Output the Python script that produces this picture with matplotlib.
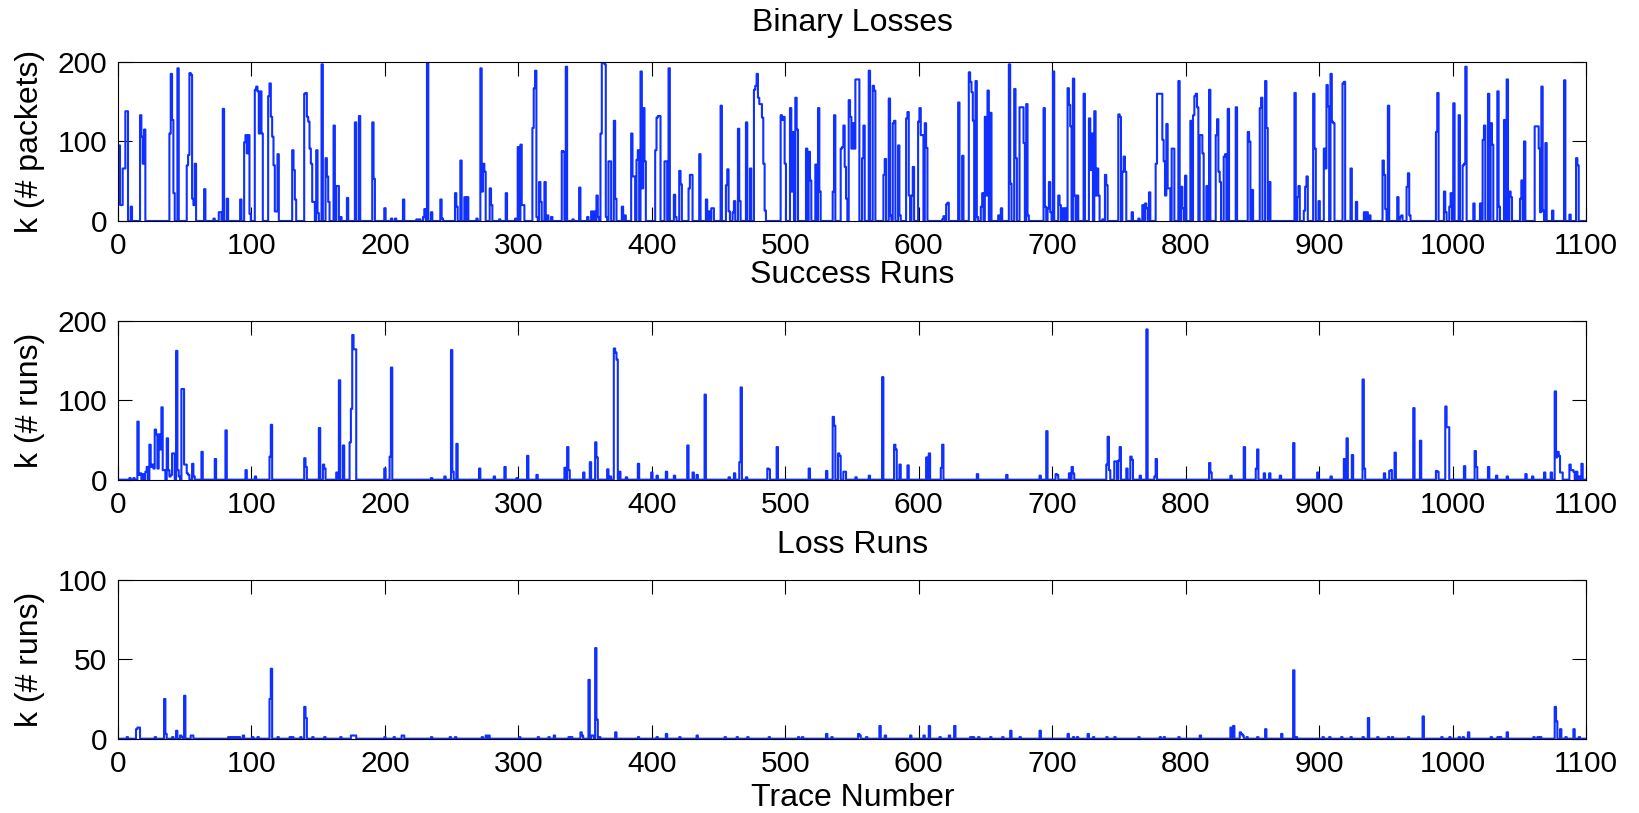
import numpy as np
import matplotlib
matplotlib.use("Agg")
import matplotlib.pyplot as plt

plt.rcParams['font.family'] = ['Liberation Sans', 'DejaVu Sans']

n_traces = 1100

# (trace number, k) pairs; traces not listed have k = 0
binary_losses = [
    (1, 95), (2, 20), (3, 20), (4, 66), (5, 66), (6, 138), (7, 138), (10, 18),
    (17, 133), (18, 106), (19, 72), (20, 115),
    (39, 110), (40, 185), (41, 127), (42, 35), (45, 192),
    (52, 70), (53, 83), (54, 186), (55, 184), (56, 28), (57, 20), (58, 72),
    (65, 40), (72, 3), (76, 11), (77, 11), (79, 141), (82, 28),
    (92, 27), (95, 99), (96, 108), (97, 85), (98, 108), (99, 9),
    (103, 165), (104, 169), (105, 163), (106, 110), (107, 163), (108, 110),
    (113, 157), (114, 173), (115, 131), (116, 106), (117, 70), (118, 12),
    (119, 12), (120, 84), (131, 89), (132, 64), (133, 27),
    (140, 160), (141, 161), (142, 131), (143, 125), (144, 91), (145, 72),
    (146, 24), (147, 24), (149, 89), (150, 10), (153, 197), (156, 79),
    (157, 56), (158, 24), (162, 120), (164, 44), (165, 44), (167, 5),
    (172, 29), (178, 124), (181, 132), (191, 124), (192, 53),
    (200, 16), (205, 3), (208, 3), (214, 27), (224, 2), (226, 2), (229, 5),
    (230, 15), (232, 200), (235, 11), (242, 27), (243, 3),
    (253, 35), (254, 18), (257, 76), (260, 30), (262, 30), (269, 3),
    (272, 192), (273, 37), (274, 72), (275, 62), (279, 41), (280, 20),
    (286, 2), (291, 35), (298, 3), (300, 93), (302, 96), (303, 20), (304, 20),
    (311, 117), (312, 167), (313, 189), (314, 5), (316, 49), (317, 24),
    (320, 49), (322, 7), (325, 5), (333, 88), (334, 87), (336, 194),
    (341, 2), (346, 42), (352, 5), (355, 12), (357, 12), (359, 32), (360, 5),
    (362, 110), (363, 199), (364, 199), (365, 197), (366, 5),
    (368, 75), (369, 75), (372, 126), (373, 28), (378, 18), (380, 7),
    (385, 110), (386, 56), (387, 56), (389, 77), (390, 89), (392, 188),
    (393, 41), (394, 142), (395, 75), (403, 89), (404, 130), (405, 132),
    (406, 132), (410, 75), (411, 75), (413, 192), (417, 33), (418, 5),
    (421, 63), (422, 46), (428, 41), (429, 58), (430, 58), (436, 84),
    (441, 27), (443, 12), (445, 16), (446, 16), (452, 145), (456, 45),
    (457, 65), (458, 12), (461, 11), (462, 25), (465, 116), (466, 25),
    (471, 124), (474, 66), (477, 165), (478, 170), (479, 185), (480, 155),
    (481, 147), (482, 147), (483, 130), (484, 72), (485, 13),
    (497, 133), (498, 127), (499, 131), (500, 72), (504, 142), (505, 37),
    (506, 112), (508, 155), (509, 115), (516, 91), (518, 87), (519, 51),
    (523, 71), (525, 142), (526, 37), (536, 37), (537, 133),
    (542, 91), (543, 93), (544, 120), (545, 68), (546, 28), (548, 152),
    (549, 131), (550, 91), (551, 123), (552, 91), (553, 178), (554, 178),
    (555, 178), (558, 79), (559, 120), (563, 189), (566, 170), (567, 164),
    (574, 58), (575, 78), (578, 154), (579, 7), (581, 123), (582, 126),
    (585, 95), (586, 7), (591, 129), (592, 137), (593, 32), (595, 32),
    (596, 68), (600, 125), (601, 142), (602, 108), (603, 108), (605, 123),
    (606, 92), (618, 2), (619, 6), (621, 21), (622, 23), (630, 149),
    (633, 82), (638, 187), (639, 175), (640, 162), (641, 126), (643, 176),
    (644, 5), (647, 18), (648, 35), (650, 131), (651, 32), (652, 164),
    (654, 136), (660, 7), (662, 16), (668, 197), (669, 47), (672, 166),
    (673, 79), (676, 143), (677, 143), (678, 143), (679, 98), (681, 147),
    (682, 7), (694, 142), (695, 18), (697, 16), (698, 49), (699, 11),
    (701, 188), (705, 32), (706, 20), (708, 16), (710, 16), (712, 167),
    (713, 146), (714, 119), (716, 179), (717, 32), (719, 32), (724, 160),
    (728, 129), (729, 64), (730, 110), (732, 138), (733, 32), (734, 66),
    (735, 32), (738, 2), (740, 58), (741, 45), (750, 134), (751, 131),
    (753, 62), (754, 81), (755, 62), (760, 11), (765, 3), (768, 20),
    (770, 22), (771, 16), (773, 36), (778, 72), (779, 160), (780, 160),
    (781, 160), (782, 160), (783, 102), (784, 75), (785, 32), (786, 122),
    (787, 41), (788, 41), (790, 91), (791, 91), (795, 176), (797, 43),
    (798, 16), (800, 57), (804, 126), (806, 133), (807, 157), (808, 160),
    (809, 143), (811, 108), (812, 108), (813, 85), (816, 44), (818, 165),
    (823, 108), (824, 128), (825, 62), (826, 49), (829, 81), (830, 84),
    (832, 141), (838, 143), (847, 112), (848, 100), (850, 39), (856, 142),
    (857, 155), (860, 176), (861, 117), (863, 49), (882, 161), (884, 30),
    (885, 44), (889, 13), (890, 43), (891, 56), (896, 160), (897, 91),
    (900, 25), (904, 91), (905, 66), (906, 171), (907, 144), (909, 185),
    (910, 125), (911, 123), (918, 173), (919, 175), (924, 66), (928, 24),
    (934, 11), (936, 11), (938, 7), (948, 76), (949, 58), (950, 15),
    (952, 145), (959, 30), (961, 5), (962, 7), (966, 43), (967, 60),
    (968, 7), (988, 112), (989, 161), (994, 37), (995, 11), (998, 18),
    (999, 35), (1001, 148), (1005, 133), (1008, 70), (1009, 72), (1010, 194),
    (1016, 22), (1021, 22), (1023, 102), (1024, 120), (1027, 160),
    (1029, 123), (1030, 96), (1034, 163), (1035, 18), (1039, 127),
    (1041, 178), (1043, 37), (1044, 30), (1051, 28), (1052, 51), (1054, 100),
    (1062, 119), (1063, 119), (1064, 119), (1065, 91), (1066, 11),
    (1067, 169), (1068, 13), (1070, 98), (1075, 13), (1084, 177), (1088, 8),
    (1093, 79), (1094, 70),
]

success_runs = [
    (9, 2), (12, 2), (15, 73), (16, 6), (17, 8), (19, 7), (21, 10), (22, 16),
    (24, 44), (25, 16), (26, 19), (27, 14), (28, 63), (29, 57), (30, 14),
    (31, 57), (32, 38), (33, 91), (34, 12), (35, 12), (37, 52), (38, 12),
    (39, 4), (40, 6), (41, 33), (42, 33), (44, 162), (45, 12), (46, 4),
    (48, 114), (49, 114), (50, 19), (51, 19), (52, 8), (53, 6), (56, 20),
    (57, 4), (63, 35), (73, 26), (81, 62), (96, 12), (103, 4), (114, 29),
    (115, 69), (140, 27), (141, 16), (151, 65), (154, 19), (155, 14),
    (164, 9), (166, 125), (169, 43), (174, 47), (175, 89), (176, 182),
    (177, 164), (178, 164), (200, 14), (204, 29), (205, 141), (235, 2),
    (245, 4), (250, 163), (251, 10), (254, 45), (271, 14), (282, 4),
    (290, 16), (299, 2), (307, 30), (314, 6), (335, 15), (337, 41),
    (338, 12), (349, 9), (354, 22), (358, 47), (359, 28), (367, 13),
    (369, 4), (372, 165), (373, 160), (374, 151), (376, 10), (381, 3),
    (390, 20), (400, 9), (404, 5), (411, 10), (417, 5), (427, 43), (431, 9),
    (434, 6), (440, 107), (458, 3), (462, 8), (466, 22), (467, 116),
    (471, 3), (487, 14), (488, 13), (494, 41), (518, 14), (531, 11),
    (536, 79), (537, 68), (540, 33), (541, 30), (544, 10), (545, 10),
    (553, 3), (563, 5), (573, 129), (582, 44), (583, 38), (586, 19),
    (592, 18), (606, 28), (608, 33), (617, 15), (618, 44), (644, 7),
    (666, 6), (691, 5), (696, 61), (703, 7), (704, 6), (713, 8), (715, 16),
    (716, 8), (741, 19), (742, 54), (743, 12), (747, 23), (748, 23),
    (750, 24), (751, 41), (756, 14), (759, 29), (760, 25), (766, 5),
    (771, 189), (777, 4), (778, 26), (818, 21), (819, 9), (834, 5),
    (844, 41), (853, 14), (854, 38), (859, 8), (863, 8), (871, 5), (881, 46),
    (899, 9), (909, 4), (919, 26), (921, 52), (925, 31), (933, 126),
    (934, 14), (949, 8), (953, 11), (954, 12), (957, 34), (971, 90),
    (976, 49), (988, 11), (989, 10), (995, 92), (996, 66), (997, 66),
    (1009, 17), (1017, 36), (1018, 16), (1027, 16), (1033, 5), (1041, 4),
    (1055, 7), (1060, 4), (1069, 9), (1074, 9), (1077, 111), (1078, 28),
    (1079, 35), (1080, 30), (1081, 9), (1082, 9), (1088, 19), (1089, 12),
    (1090, 12), (1091, 10), (1093, 10), (1095, 4), (1097, 20),
]

loss_runs = [
    (7, 1), (14, 6), (15, 7), (16, 7), (28, 1), (35, 25), (36, 3), (41, 1),
    (44, 5), (47, 2), (48, 1), (50, 27), (55, 2), (56, 2), (83, 1), (85, 1),
    (87, 1), (89, 1), (91, 1), (94, 2), (101, 1), (105, 1), (114, 25),
    (115, 44), (120, 1), (129, 1), (131, 1), (137, 1), (140, 20), (141, 13),
    (146, 1), (155, 1), (167, 1), (175, 2), (176, 2), (177, 2), (178, 2),
    (200, 1), (207, 1), (213, 2), (214, 2), (235, 1), (249, 1), (253, 1),
    (273, 1), (276, 2), (278, 2), (301, 1), (315, 1), (323, 1), (327, 2),
    (338, 1), (340, 1), (347, 4), (348, 2), (353, 37), (355, 2), (356, 2),
    (358, 57), (359, 12), (361, 1), (373, 4), (390, 1), (404, 1), (411, 3),
    (421, 1), (434, 2), (455, 1), (464, 1), (472, 1), (488, 1), (510, 1),
    (513, 1), (531, 3), (535, 1), (555, 3), (556, 2), (561, 1), (571, 8),
    (575, 2), (594, 2), (604, 2), (608, 8), (616, 1), (623, 2), (627, 8),
    (639, 1), (641, 1), (645, 1), (654, 1), (663, 1), (669, 5), (676, 1),
    (691, 5), (712, 3), (716, 1), (719, 1), (727, 3), (731, 1), (741, 1),
    (747, 1), (765, 1), (781, 1), (784, 1), (795, 1), (811, 2), (834, 7),
    (836, 8), (841, 4), (842, 3), (843, 2), (846, 1), (854, 1), (860, 6),
    (872, 3), (881, 43), (883, 1), (903, 1), (908, 1), (917, 1), (924, 1),
    (933, 1), (937, 13), (944, 1), (952, 1), (955, 1), (967, 1), (978, 14),
    (992, 1), (998, 1), (1005, 1), (1008, 1), (1012, 4), (1029, 1),
    (1034, 1), (1036, 1), (1041, 4), (1061, 1), (1064, 1), (1066, 1),
    (1077, 20), (1078, 11), (1081, 6), (1085, 1), (1091, 6), (1095, 1),
]

ylabels = ['k (# packets)', 'k (# runs)', 'k (# runs)']
titles = ['Binary Losses', 'Success Runs', 'Loss Runs', 'Trace Number']
title_y = [0.9717, 0.662, 0.330, 0.019]
ymax = [200, 200, 100]
yticks = [[0, 100, 200], [0, 100, 200], [0, 50, 100]]
xticks = list(range(0, 1101, 100))


def to_series(pairs):
    k = np.zeros(n_traces)
    for t, v in pairs:
        k[t - 1] = v
    return k


trace = np.arange(1, n_traces + 1)
series = [to_series(binary_losses), to_series(success_runs), to_series(loss_runs)]

fig = plt.figure(figsize=(16.39, 8.13), dpi=100)
bottoms = [0.7282, 0.410, 0.0914]
fs = 23
tick_fs = 21.5

for i, k in enumerate(series):
    ax = fig.add_axes([0.072, bottoms[i], 0.8957, 0.1956])
    ax.plot(trace, k, color='#1030ff', lw=1.5, drawstyle='steps-mid')
    ax.set_xlim(0, 1100)
    ax.set_ylim(0, ymax[i])
    ax.set_xticks(xticks)
    ax.set_yticks(yticks[i])
    ax.tick_params(direction='in', length=10, width=0.8, top=True, right=True,
                   labelsize=tick_fs)
    ax.tick_params(axis='x', pad=8)
    ax.tick_params(axis='y', pad=8)
    ax.set_ylabel(ylabels[i], fontsize=fs)
    ax.yaxis.set_label_coords(-0.050, 0.5)
    for s in ax.spines.values():
        s.set_linewidth(0.8)

for t, y in zip(titles, title_y):
    fig.text(0.52, y, t, fontsize=fs, ha='center', va='center')

fig.savefig('out.png', dpi=100)
